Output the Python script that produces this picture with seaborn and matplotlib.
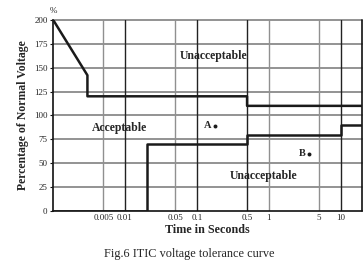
import matplotlib
matplotlib.use("Agg")
import matplotlib.pyplot as plt
import seaborn as sns
import pandas as pd
import numpy as np

sns.set_style("white")
plt.rcParams['font.family'] = ['Liberation Serif', 'DejaVu Serif']

# Upper ITIC boundary
upper_t = [0.001, 0.003, 0.003, 0.5, 0.5, 20]
upper_v = [200, 142, 120, 120, 110, 110]
# Lower ITIC boundary
lower_t = [0.001, 0.02, 0.02, 0.5, 0.5, 10, 10, 20]
lower_v = [0, 0, 70, 70, 80, 80, 90, 90]
# Sample points
pt_names = ["A", "B"]
pt_t = [0.18, 3.6]
pt_v = [89, 60]

x_ticks = [0.005, 0.01, 0.05, 0.1, 0.5, 1, 5, 10]
x_labels = ["0.005", "0.01", "0.05", "0.1", "0.5", "1", "5", "10"]
y_ticks = [0, 25, 50, 75, 100, 125, 150, 175, 200]

fig = plt.figure(figsize=(3.64, 2.65), dpi=100)
ax = fig.add_axes([0.146, 0.204, 0.849, 0.721])
ax.set_xscale("log")
ax.set_xlim(0.001, 20)
ax.set_ylim(0, 200)

# grid
for yv in y_ticks[1:]:
    ax.axhline(yv, color="#808080", lw=1.2, zorder=1, clip_on=False)
major = {0.01, 0.1, 0.5, 10}
for xv in x_ticks:
    ax.axvline(xv, color="#222222" if xv in major else "#909090", lw=1.0, zorder=1)
ax.axvline(20, color="#111111", lw=1.2, zorder=1, clip_on=False)

up = pd.DataFrame({"t": upper_t, "v": upper_v})
lo = pd.DataFrame({"t": lower_t, "v": lower_v})
sns.lineplot(data=up, x="t", y="v", sort=False, estimator=None, color="#1a1a1a", lw=1.8, ax=ax, zorder=3)
sns.lineplot(data=lo, x="t", y="v", sort=False, estimator=None, color="#1a1a1a", lw=1.8, ax=ax, zorder=3)
pts = pd.DataFrame({"t": pt_t, "v": pt_v, "n": pt_names})
sns.scatterplot(data=pts, x="t", y="v", color="#1a1a1a", s=8, ax=ax, zorder=4, linewidth=0)
for n, t, v in zip(pt_names, pt_t, pt_v):
    ax.text(t / 1.12, v, n, ha="right", va="center", fontsize=7.5, fontweight="bold")

ax.text(0.17, 162, "Unacceptable", ha="center", va="center", fontsize=8.5, fontweight="bold")
ax.text(0.0085, 87, "Acceptable", ha="center", va="center", fontsize=8.5, fontweight="bold")
ax.text(0.85, 37, "Unacceptable", ha="center", va="center", fontsize=8.5, fontweight="bold")

ax.set_xticks(x_ticks)
ax.set_xticklabels(x_labels)
ax.xaxis.set_minor_locator(matplotlib.ticker.NullLocator())
ax.set_yticks(y_ticks)
ax.tick_params(axis="both", labelsize=6.5, length=2, width=0.8, pad=2, direction="out", color="#111111")
ax.tick_params(axis="x", bottom=True, length=0)
ax.tick_params(axis="y", left=True)

for s in ["top", "right"]:
    ax.spines[s].set_visible(False)
ax.spines["left"].set_color("#111111")
ax.spines["bottom"].set_color("#111111")
ax.spines["left"].set_linewidth(1.2)
ax.spines["bottom"].set_linewidth(1.2)

ax.set_xlabel("Time in Seconds", fontsize=8.7, fontweight="bold", labelpad=2)
ax.set_ylabel("Percentage of Normal Voltage", fontsize=8.5, fontweight="bold", labelpad=4)
fig.text(0.148, 0.96, "%", ha="center", va="center", fontsize=6.5)
fig.text(0.52, 0.04, "Fig.6 ITIC voltage tolerance curve", ha="center", va="center", fontsize=8.8)

fig.savefig("out.png", dpi=100)
